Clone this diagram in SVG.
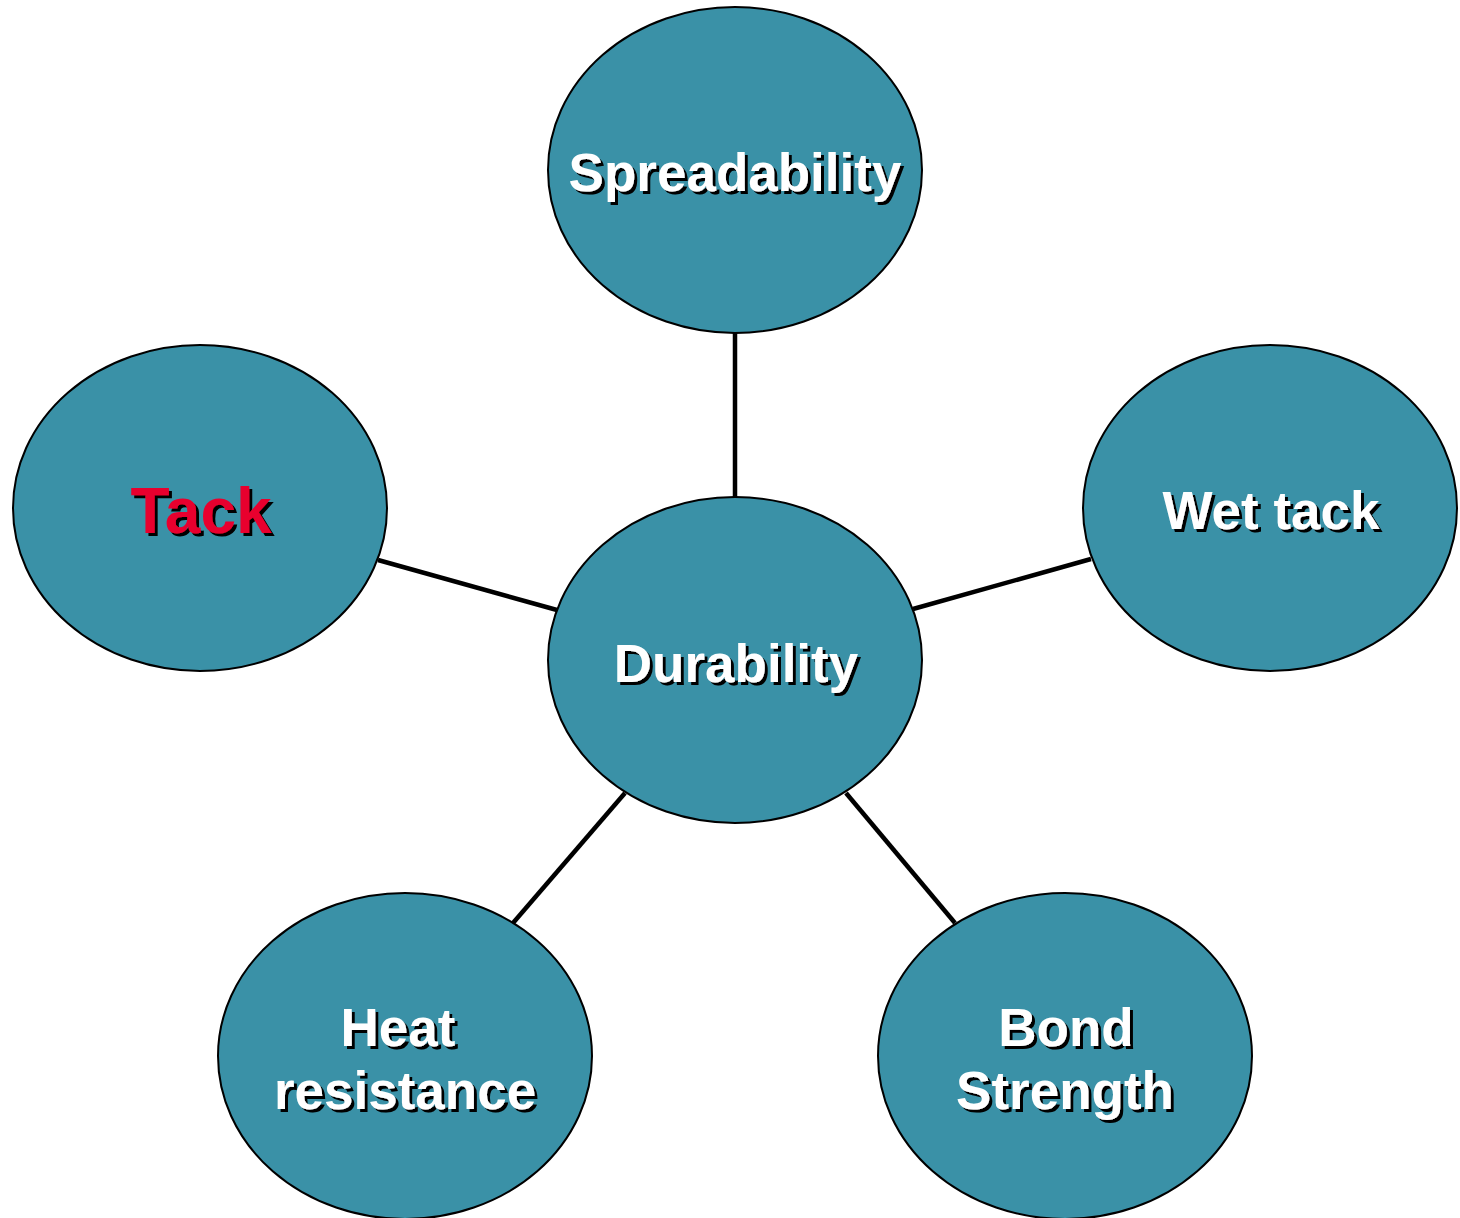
<svg xmlns="http://www.w3.org/2000/svg" width="1460" height="1218" viewBox="0 0 1460 1218">
<defs>
<filter id="sh" x="-10%" y="-20%" width="120%" height="140%">
<feDropShadow dx="3" dy="3" stdDeviation="0" flood-color="#000" flood-opacity="1"/>
</filter>
</defs>
<style>
.n{fill:#3A91A7;stroke:#000;stroke-width:2}
.t{font-family:"Liberation Sans",Arial,sans-serif;font-weight:bold;font-size:53px;fill:#fff;text-anchor:middle;filter:url(#sh)}
.red{fill:#E8002F;font-size:64px}
.c{stroke:#000;stroke-width:4.5;fill:none}
</style>
<rect width="1460" height="1218" fill="#fff"/>
<g id="connectors">
<line class="c" x1="735" y1="333" x2="735" y2="497"/>
<line class="c" x1="378" y1="560" x2="557" y2="610"/>
<line class="c" x1="913" y1="609" x2="1091" y2="559"/>
<line class="c" x1="513" y1="923" x2="625" y2="793"/>
<line class="c" x1="955" y1="923" x2="846" y2="793"/>
</g>
<g id="spreadability">
<ellipse class="n" cx="735" cy="170" rx="187" ry="163"/>
<text class="t" x="735" y="191">Spreadability</text>
</g>
<g id="durability">
<ellipse class="n" cx="735" cy="660" rx="187" ry="163"/>
<text class="t" x="736" y="682">Durability</text>
</g>
<g id="tack">
<ellipse class="n" cx="200" cy="508" rx="187" ry="163"/>
<text class="t red" x="201" y="533">Tack</text>
</g>
<g id="wettack">
<ellipse class="n" cx="1270" cy="508" rx="187" ry="163"/>
<text class="t" x="1271" y="529">Wet tack</text>
</g>
<g id="heat">
<ellipse class="n" cx="405" cy="1056" rx="187" ry="163"/>
<text class="t" x="398" y="1046">Heat</text>
<text class="t" x="405" y="1109">resistance</text>
</g>
<g id="bond">
<ellipse class="n" cx="1065" cy="1056" rx="187" ry="163"/>
<text class="t" x="1066" y="1046">Bond</text>
<text class="t" x="1065" y="1109">Strength</text>
</g>
</svg>
